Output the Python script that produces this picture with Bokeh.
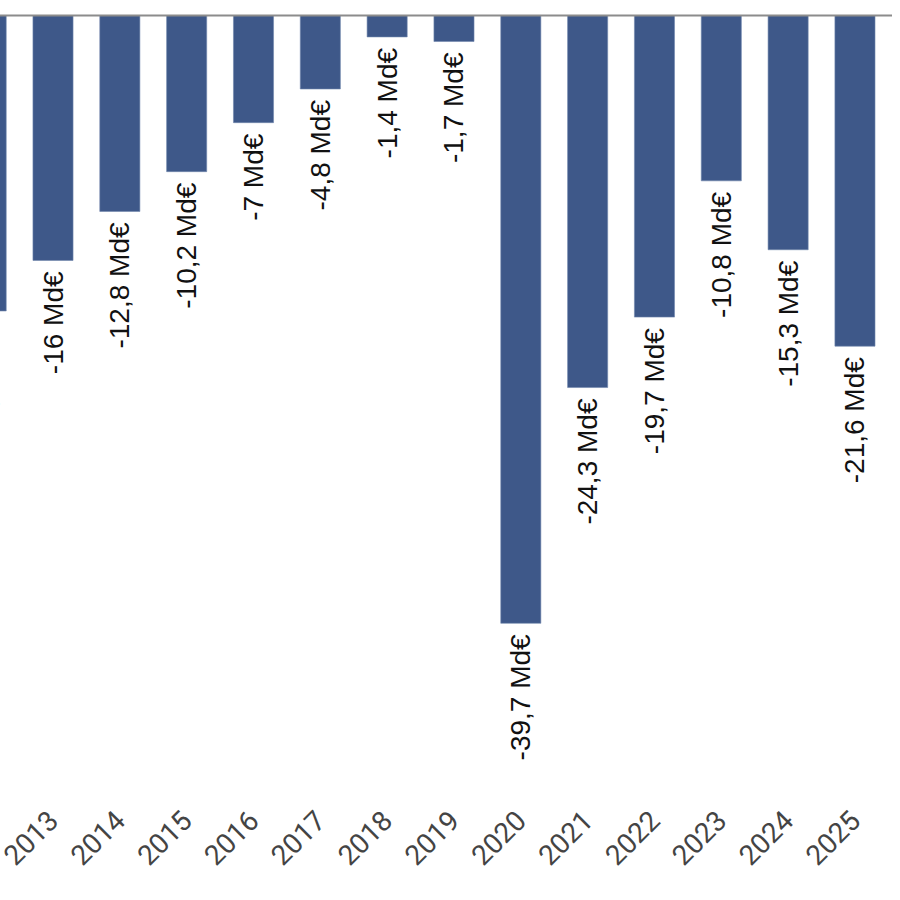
import math
from bokeh.plotting import figure
from bokeh.models import Range1d, FixedTicker, Span, ColumnDataSource
from bokeh.core.properties import value
from bokeh.embed import file_html
from bokeh.resources import INLINE

years = [2012, 2013, 2014, 2015, 2016, 2017, 2018, 2019, 2020, 2021, 2022, 2023, 2024, 2025]
values = [-19.3, -16, -12.8, -10.2, -7, -4.8, -1.4, -1.7, -39.7, -24.3, -19.7, -10.8, -15.3, -21.6]
labels = [("%g" % v).replace(".", ",") + " Md€" for v in values]

src = ColumnDataSource(dict(x=years, top=[0] * len(years), bottom=values, label=labels))

PX_PER_YEAR = 66.83
PX_PER_UNIT = 15.31
SHIFT = 8          # the frame's top-left corner lies this far outside the page
W, H = 900, 900
FRAME_H = 811
x0 = 2013 - (52.5 + SHIFT) / PX_PER_YEAR
p = figure(width=W, height=H, output_backend="svg", toolbar_location=None,
           x_range=Range1d(x0, x0 + W / PX_PER_YEAR),
           y_range=Range1d(-(FRAME_H - 15 - SHIFT) / PX_PER_UNIT, (15 + SHIFT) / PX_PER_UNIT),
           y_axis_location=None,
           min_border_left=0, min_border_right=0, min_border_top=0,
           min_border_bottom=H - FRAME_H)
p.styles = {"margin-left": "-8px", "margin-top": "-8px"}
p.outline_line_color = None
p.xgrid.visible = False
p.ygrid.visible = False
p.background_fill_color = "white"
p.border_fill_color = "white"

p.vbar(x="x", top="top", bottom="bottom", width=0.6, source=src,
       fill_color="#3E5889", line_color="#7186ad", line_width=0.6)

p.add_layout(Span(location=0, dimension="width", line_color="#8c8c8c", line_width=2))

p.text(x="x", y="bottom", text="label", source=src, angle=math.pi / 2,
       text_align="right", text_baseline="middle", y_offset=11,
       text_font=value("Liberation Sans"), text_font_size="28px", text_color="#111111")

ax = p.xaxis[0]
ax.ticker = FixedTicker(ticks=years)
ax.major_label_orientation = math.pi / 4
ax.axis_line_color = None
ax.major_tick_line_color = None
ax.minor_tick_line_color = None
ax.major_tick_out = 0
ax.major_label_standoff = 12
ax.major_label_text_font = "Roboto"
ax.major_label_text_font_size = "28px"
ax.major_label_text_color = "#444444"

open("out.html", "w").write(file_html(p, INLINE))
